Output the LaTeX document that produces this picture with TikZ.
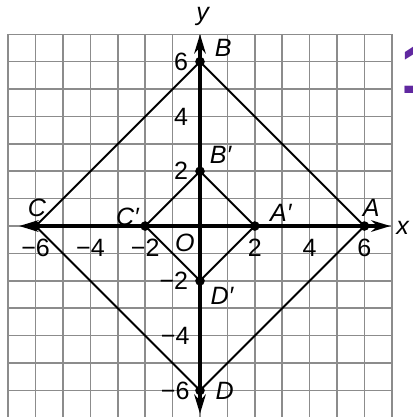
\documentclass[tikz,border=0pt]{standalone}
\usepackage{fontspec}
\setmainfont{Liberation Sans}
\usetikzlibrary{positioning}
\usetikzlibrary{arrows.meta}
\definecolor{markpurple}{RGB}{96,40,160}

\begin{document}
\begin{tikzpicture}[
        x=0.5cm, y=0.5cm,
        >={Stealth[length=10pt,width=6pt]},
        font=\fontsize{13}{15}\selectfont,
        gridline/.style={draw=black!45, line width=0.8pt},
        axisline/.style={line width=1.6pt},
        sideline/.style={line width=1pt},
        pointnode/.style={circle, fill=black, inner sep=0pt, minimum size=5pt},
        ticklabel/.style={inner sep=1pt},
        pointlabel/.style={font=\fontsize{13}{15}\selectfont\itshape, inner sep=0pt}
    ]

        \useasboundingbox (-7.3,-6.97) rectangle (7.74,8.25);

        % Grid
        \draw [gridline, step=0.5cm] (-7,-7) grid (7,7);

        % Axes
        \coordinate (XMin) at (-6.6,0);
        \coordinate (XMax) at (6.95,0);
        \coordinate (YMin) at (0,-6.85);
        \coordinate (YMax) at (0,7);
        \draw [axisline, <->] (XMin) -- (XMax);
        \draw [axisline, <->] (YMin) -- (YMax);
        \node [pointlabel] (LabelX) at (7.4,-0.05) {x};
        \node [pointlabel] (LabelY) at (0.1,7.65) {y};
        \node [pointlabel] (LabelO) at (-0.55,-0.6) {O};

        % Ticks on x
        \node [ticklabel] (TickXm6) at (-6,-0.8) {−6};
        \node [ticklabel] (TickXm4) at (-4,-0.8) {−4};
        \node [ticklabel] (TickXm2) at (-2,-0.8) {−2};
        \node [ticklabel] (TickX2) at (2,-0.8) {2};
        \node [ticklabel] (TickX4) at (4,-0.8) {4};
        \node [ticklabel] (TickX6) at (6,-0.8) {6};

        % Ticks on y
        \node [ticklabel, anchor=east] (TickY6) at (-0.35,6) {6};
        \node [ticklabel, anchor=east] (TickY4) at (-0.35,4) {4};
        \node [ticklabel, anchor=east] (TickY2) at (-0.35,2) {2};
        \node [ticklabel, anchor=east] (TickYm2) at (-0.35,-2) {−2};
        \node [ticklabel, anchor=east] (TickYm4) at (-0.3,-4) {−4};
        \node [ticklabel, anchor=east] (TickYm6) at (-0.3,-6) {−6};

        % Points
        \node [pointnode] (PointA) at (6,0) {};
        \node [pointnode] (PointB) at (0,6) {};
        \node [pointnode] (PointC) at (-6,0) {};
        \node [pointnode] (PointD) at (0,-6) {};
        \node [pointnode] (PointAp) at (2,0) {};
        \node [pointnode] (PointBp) at (0,2) {};
        \node [pointnode] (PointCp) at (-2,0) {};
        \node [pointnode] (PointDp) at (0,-2) {};

        % Outer and inner squares
        \draw [sideline] (PointA.center) -- (PointB.center) -- (PointC.center) -- (PointD.center) -- cycle;
        \draw [sideline] (PointAp.center) -- (PointBp.center) -- (PointCp.center) -- (PointDp.center) -- cycle;

        % Point names
        \node [pointlabel] (LabelA) at (6.25,0.65) {A};
        \node [pointlabel] (LabelB) at (0.85,6.5) {B};
        \node [pointlabel] (LabelC) at (-5.95,0.65) {C};
        \node [pointlabel] (LabelD) at (0.9,-6) {D};
        \node [pointlabel] (LabelAp) at (2.95,0.47) {A′};
        \node [pointlabel] (LabelBp) at (0.75,2.6) {B′};
        \node [pointlabel] (LabelCp) at (-2.65,0.33) {C′};
        \node [pointlabel] (LabelDp) at (0.8,-2.55) {D′};

        % Cut mark at the edge
        \node [text=markpurple, font=\bfseries\fontsize{37}{37}\selectfont, anchor=north west, inner sep=0pt] (EdgeMark) at (7.3,6.65) {1};

    \end{tikzpicture}
\end{document}
